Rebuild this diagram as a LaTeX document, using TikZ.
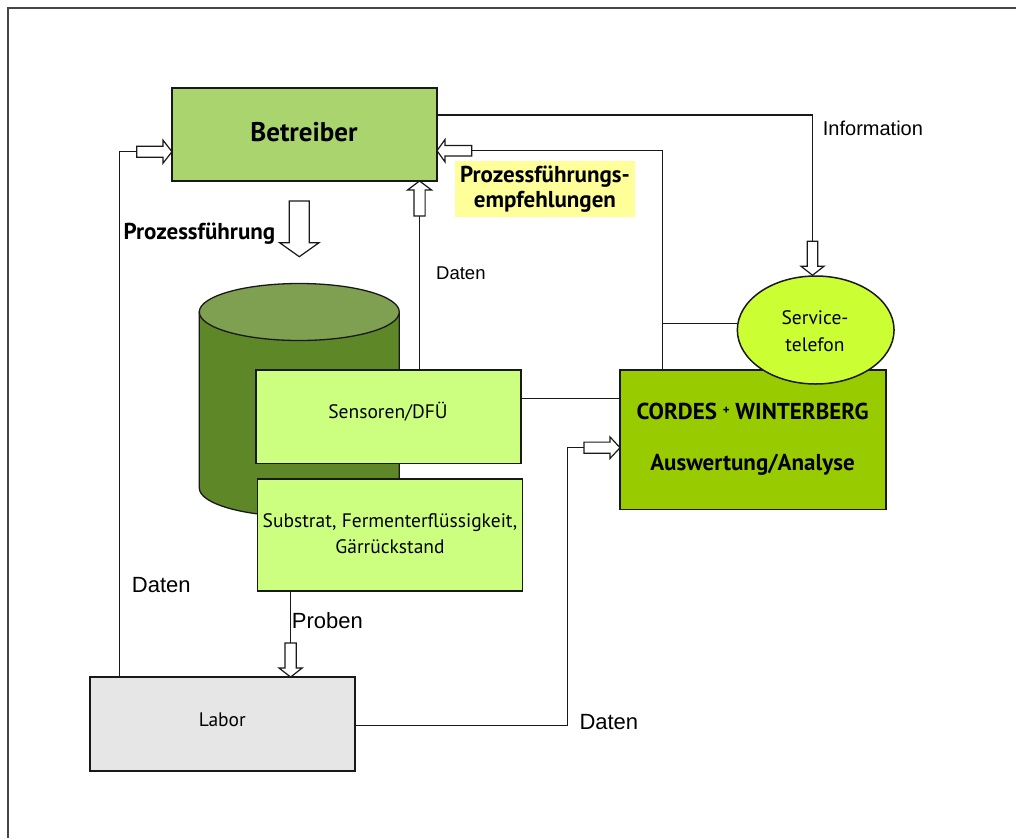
\documentclass[tikz,border=0pt]{standalone}
\usepackage{fontspec}
\setmainfont{PT Sans}
\newfontfamily\arialf{Liberation Sans}
\usetikzlibrary{shapes.geometric,calc}
\definecolor{betc}{RGB}{170,213,110}
\definecolor{sensc}{RGB}{204,255,128}
\definecolor{cwc}{RGB}{153,204,0}
\definecolor{svcc}{RGB}{204,255,51}
\definecolor{labc}{RGB}{230,230,230}
\definecolor{yelc}{RGB}{255,255,153}
\definecolor{cylbody}{RGB}{94,135,40}
\definecolor{cyltop}{RGB}{127,160,80}
\definecolor{linec}{RGB}{25,25,25}
\definecolor{framec}{RGB}{70,70,70}
\tikzset{
  box/.style={draw=linec, line width=1.5pt, inner sep=0pt, outer sep=0pt, align=center},
  conn/.style={draw=linec, line width=1.2pt},
  blkarrow/.style={draw=linec, fill=white, line width=1.2pt, line join=miter},
  pics/blk/.style n args={4}{code={\draw[blkarrow] (0,0) -- (-#4,#3) -- (-#4,#2) -- (-#1,#2) -- (-#1,-#2) -- (-#4,-#2) -- (-#4,-#3) -- cycle;}},
  lbl/.style={font=\arialf\fontsize{22}{24}\selectfont, inner sep=0pt, anchor=west},
  reg/.style={font=\fontsize{19.5}{26}\selectfont},
  bld/.style={font=\bfseries\fontsize{23}{25.7}\selectfont},
}
\begin{document}
\begin{tikzpicture}[x=1pt,y=-1pt]
\useasboundingbox (0,0) rectangle (1016,838);
\fill[white] (0,0) rectangle (1016,838);
% frame
\draw[framec, line width=2pt] (7.5,838) -- (7.5,8) -- (1016,8);

% cylinder
\draw[linec, line width=1.3pt, fill=cylbody] (199.3,312) -- (199.3,488) arc[start angle=180, end angle=360, x radius=100pt, y radius=28.5pt] -- (399.3,312) -- cycle;
\draw[linec, line width=1.3pt, fill=cyltop] (299.3,312) ellipse [x radius=100pt, y radius=28.5pt];

% nodes
\node[box, fill=betc, minimum width=265pt, minimum height=93pt] (bet) at (304.5,134.5) {};
\node[font=\bfseries\fontsize{27}{30}\selectfont] (bett) at (304,132) {Betreiber};
\node[box, fill=sensc, minimum width=265.3pt, minimum height=93.3pt] (sens) at (388.4,416.7) {};
\node[reg] (senst) at (388,411.7) {Sensoren/DFÜ};
\node[box, fill=sensc, minimum width=265.4pt, minimum height=112pt] (subs) at (390,535) {};
\node[reg, align=center] (subst) at (390,534) {Substrat, Fermenterflüssigkeit,\\Gärrückstand};
\node[box, fill=cwc, minimum width=265.7pt, minimum height=139.3pt] (cw) at (752.9,439.7) {};
\node[bld] (cwt1) at (752.5,411.7) {CORDES \raisebox{0.45ex}{\fontsize{13}{13}\selectfont +} WINTERBERG};
\node[bld] (cwt2) at (752.5,465) {Auswertung/Analyse};
\node[draw=linec, line width=1.5pt, ellipse, fill=svcc, minimum width=156.7pt, minimum height=108pt, inner sep=0pt] (svc) at (815.7,330) {};
\node[reg, align=center, font=\fontsize{19.5}{26.7}\selectfont] (svct) at (815,331.5) {Service-\\telefon};
\node[box, fill=labc, minimum width=265pt, minimum height=93.7pt] (labor) at (222.5,723.9) {};
\node[reg] (labt) at (222.3,719.3) {Labor};
\node[fill=yelc, minimum width=180pt, minimum height=56pt, inner sep=0pt] (yel) at (545,189) {};
\node[bld, align=center] (yelt) at (545,189) {Prozessführungs-\\empfehlungen};

% labels
\node[bld, anchor=east, inner sep=0pt] (pf) at (275.5,233.3) {Prozessführung};
\node[lbl, font=\arialf\fontsize{20}{24}\selectfont] (info) at (822.7,128.5) {Information};
\node[lbl, font=\arialf\fontsize{18.5}{24}\selectfont] (dat1) at (436,273) {Daten};
\node[lbl] (dat2) at (131.7,585.5) {Daten};
\node[lbl] (prob) at (291.7,620.5) {Proben};
\node[lbl] (dat3) at (579.3,722) {Daten};

% connectors
\coordinate (kL) at (119.3,151.7);
\draw[conn] (labor.north -| kL) -- (kL) -- ++(17.4,0);
\pic at (bet.west |- kL) {blk={35.3}{5.5}{11.5}{9}};

\coordinate (kD) at (419.5,0);
\draw[conn] (sens.north -| kD) -- (419.5,216);
\pic[rotate=90] at (bet.south -| kD) {blk={35}{5.6}{12}{9}};

\coordinate (kP) at (662.3,150.7);
\draw[conn] (cw.north -| kP) -- (kP) -- (471.7,150.7);
\pic[rotate=180] at (bet.east |- kP) {blk={34.7}{5.3}{11.2}{8}};

\draw[conn] (svc.175.6) -- (svc.175.6 -| kP);

\coordinate (kI) at (812.5,115);
\draw[conn] (bet.east |- kI) -- (kI) -- (812.5,241.7);
\pic[rotate=-90] at (svc.north -| kI) {blk={34}{5.2}{11.5}{9}};

\coordinate (kS) at (0,398.3);
\draw[conn] (sens.east |- kS) -- (cw.west |- kS);

\coordinate (kR) at (567.3,447.7);
\coordinate (kR2) at (567.3,725.7);
\draw[conn] (labor.east |- kR2) -- (kR2) -- (kR) -- ++(16.7,0);
\pic at (cw.west |- kR) {blk={36}{5.6}{10.7}{10}};

\coordinate (kB) at (290.6,0);
\draw[conn] (subs.south -| kB) -- (290.6,643);
\pic[rotate=-90] at (labor.north -| kB) {blk={34}{5.7}{11.5}{9}};

\coordinate (kF) at (299.3,256.7);
\pic[rotate=-90] at (kF) {blk={55.7}{10}{19.7}{14}};
\end{tikzpicture}
\end{document}
